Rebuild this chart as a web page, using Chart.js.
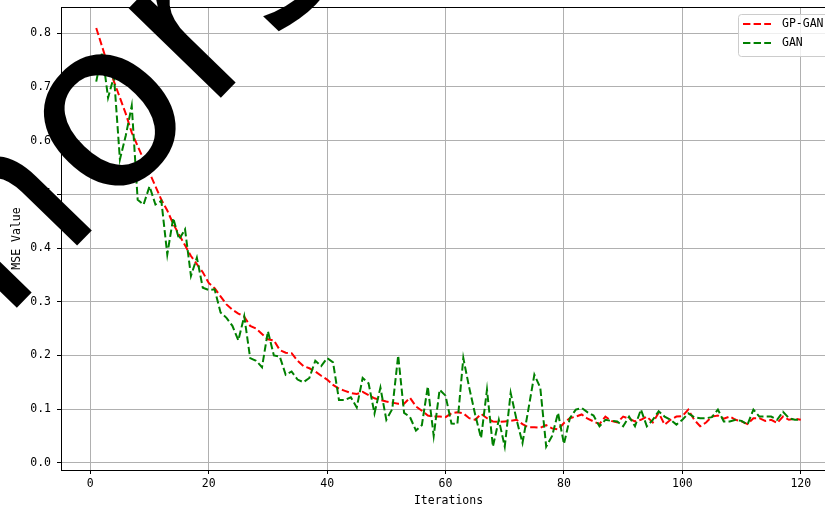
<!DOCTYPE html>
<html>
<head>
<meta charset="utf-8">
<script src="https://cdn.jsdelivr.net/npm/chart.js@4"></script>
<style>
  html, body { margin: 0; padding: 0; background: #fff; overflow: hidden; }
  #wrap { position: relative; width: 836px; height: 508px; }
</style>
</head>
<body>
<div id="wrap"><canvas id="c"></canvas></div>
<script>
// ---- data ---------------------------------------------------------------
const iterations = Array.from({ length: 120 }, (_, i) => i + 1);

const gpGan = [
  0.810, 0.775, 0.740, 0.710, 0.680, 0.650, 0.615, 0.590, 0.565, 0.540,
  0.515, 0.490, 0.470, 0.445, 0.425, 0.405, 0.385, 0.370, 0.355, 0.335,
  0.325, 0.310, 0.295, 0.285, 0.278, 0.272, 0.255, 0.250, 0.240, 0.230,
  0.228, 0.210, 0.205, 0.204, 0.190, 0.180, 0.176, 0.170, 0.162, 0.155,
  0.145, 0.138, 0.134, 0.130, 0.128, 0.132, 0.126, 0.120, 0.117, 0.114,
  0.112, 0.110, 0.110, 0.121, 0.105, 0.097, 0.088, 0.086, 0.086, 0.085,
  0.092, 0.094, 0.092, 0.083, 0.080, 0.091, 0.083, 0.077, 0.076, 0.077,
  0.078, 0.080, 0.072, 0.066, 0.066, 0.065, 0.070, 0.064, 0.062, 0.074,
  0.083, 0.086, 0.090, 0.082, 0.077, 0.072, 0.086, 0.078, 0.075, 0.086,
  0.082, 0.077, 0.080, 0.086, 0.075, 0.093, 0.071, 0.080, 0.086, 0.087,
  0.099, 0.080, 0.068, 0.075, 0.086, 0.088, 0.082, 0.086, 0.080, 0.077,
  0.072, 0.083, 0.083, 0.078, 0.080, 0.074, 0.086, 0.080, 0.082, 0.080
];

const gan = [
  0.710, 0.765, 0.680, 0.720, 0.565, 0.610, 0.665, 0.490, 0.481, 0.515,
  0.481, 0.488, 0.388, 0.456, 0.416, 0.435, 0.348, 0.382, 0.326, 0.322,
  0.323, 0.280, 0.270, 0.255, 0.228, 0.273, 0.195, 0.190, 0.178, 0.245,
  0.200, 0.198, 0.164, 0.170, 0.155, 0.150, 0.158, 0.190, 0.180, 0.195,
  0.187, 0.117, 0.117, 0.122, 0.103, 0.158, 0.148, 0.092, 0.140, 0.080,
  0.100, 0.200, 0.093, 0.085, 0.060, 0.070, 0.142, 0.050, 0.136, 0.125,
  0.073, 0.072, 0.195, 0.140, 0.090, 0.046, 0.136, 0.030, 0.080, 0.030,
  0.130, 0.080, 0.037, 0.100, 0.164, 0.140, 0.030, 0.050, 0.093, 0.035,
  0.083, 0.099, 0.102, 0.094, 0.088, 0.068, 0.080, 0.078, 0.077, 0.068,
  0.086, 0.068, 0.099, 0.068, 0.080, 0.096, 0.086, 0.080, 0.071, 0.080,
  0.092, 0.085, 0.083, 0.083, 0.085, 0.099, 0.077, 0.077, 0.080, 0.078,
  0.071, 0.099, 0.086, 0.086, 0.086, 0.080, 0.095, 0.083, 0.080, 0.080
];

const xTicks = [0, 20, 40, 60, 80, 100, 120];
const yTicks = [0, 0.1, 0.2, 0.3, 0.4, 0.5, 0.6, 0.7, 0.8];
const seriesNames = ['GP-GAN', 'GAN'];
const seriesColors = ['#ff0000', '#008000'];

// ---- style --------------------------------------------------------------
const FONT = "'DejaVu Sans Mono', monospace";
const DASH = [7.4, 3.2];
const LW = 2;

// 外枠（上・右）
const framePlugin = {
  id: 'frame',
  afterDatasetsDraw(chart) {
    const { ctx, chartArea: a } = chart;
    ctx.save();
    ctx.strokeStyle = '#000';
    ctx.lineWidth = 1;
    ctx.strokeRect(a.left + 0.5, a.top + 0.5, a.right - a.left, a.bottom - a.top);
    ctx.restore();
  }
};

// 凡例（右上）
const legendPlugin = {
  id: 'mplLegend',
  afterDatasetsDraw(chart) {
    const { ctx } = chart;
    const x = 738, y = 14, w = 100, h = 42;
    ctx.save();
    ctx.fillStyle = 'rgba(255,255,255,0.8)';
    ctx.strokeStyle = '#cccccc';
    ctx.lineWidth = 1;
    ctx.beginPath();
    ctx.roundRect(x + 0.5, y + 0.5, w, h, 3);
    ctx.fill();
    ctx.stroke();
    ctx.font = '11.5px ' + FONT;
    ctx.textBaseline = 'middle';
    seriesNames.forEach((name, i) => {
      const ly = 24 + i * 19;
      ctx.strokeStyle = seriesColors[i];
      ctx.lineWidth = LW;
      ctx.setLineDash(DASH);
      ctx.beginPath();
      ctx.moveTo(743, ly);
      ctx.lineTo(771, ly);
      ctx.stroke();
      ctx.setLineDash([]);
      ctx.fillStyle = '#000';
      ctx.fillText(name, 782, ly + 0.5);
    });
    ctx.restore();
  }
};

// 大きな黒文字のオーバーレイ
const overlayPlugin = {
  id: 'overlay',
  afterDraw(chart) {
    const { ctx } = chart;
    ctx.save();
    ctx.translate(2, 323);
    ctx.rotate(-0.8);
    ctx.fillStyle = '#000';
    ctx.font = "235px 'DejaVu Sans'";
    ctx.textBaseline = 'alphabetic';
    ctx.fillText('nors', 0, 0);
    ctx.restore();
  }
};

new Chart(document.getElementById('c'), {
  type: 'line',
  data: {
    datasets: [
      {
        label: seriesNames[0],
        data: iterations.map((x, i) => ({ x, y: gpGan[i] })),
        borderColor: seriesColors[0],
        borderWidth: LW,
        borderDash: DASH,
        pointRadius: 0,
        tension: 0,
        fill: false,
        order: 1
      },
      {
        label: seriesNames[1],
        data: iterations.map((x, i) => ({ x, y: gan[i] })),
        borderColor: seriesColors[1],
        borderWidth: LW,
        borderDash: DASH,
        pointRadius: 0,
        tension: 0,
        fill: false,
        order: 0
      }
    ]
  },
  options: {
    responsive: true,
    maintainAspectRatio: false,
    animation: false,
    layout: { padding: { top: 7, left: 0, right: 0, bottom: 0 } },
    plugins: {
      legend: { display: false },
      tooltip: { enabled: false }
    },
    scales: {
      x: {
        type: 'linear',
        min: -4.95,
        max: 125.95,
        afterBuildTicks: (s) => { s.ticks = xTicks.map(v => ({ value: v })); },
        afterFit: (s) => { s.height = 38; s.paddingLeft = 0; s.paddingRight = 0; },
        grid: { color: '#b0b0b0', lineWidth: 1, tickColor: '#000', tickLength: 4 },
        border: { color: '#000', width: 1 },
        ticks: { color: '#000', font: { family: FONT, size: 11.5 }, padding: 3, maxRotation: 0 },
        title: { display: true, text: 'Iterations', color: '#000', font: { family: FONT, size: 11.5 }, padding: { top: 0, bottom: 0 } }
      },
      y: {
        type: 'linear',
        min: -0.0135,
        max: 0.849,
        afterBuildTicks: (s) => { s.ticks = yTicks.map(v => ({ value: v })); },
        afterFit: (s) => { s.width = 61; s.paddingTop = 0; s.paddingBottom = 0; },
        grid: { color: '#b0b0b0', lineWidth: 1, tickColor: '#000', tickLength: 4 },
        border: { color: '#000', width: 1 },
        ticks: { color: '#000', font: { family: FONT, size: 11.5 }, padding: 6, callback: (v) => v.toFixed(1) },
        title: { display: true, text: 'MSE Value', color: '#000', font: { family: FONT, size: 11.5 }, padding: { top: 10, bottom: 0 } }
      }
    }
  },
  plugins: [framePlugin, legendPlugin, overlayPlugin]
});
</script>
</body>
</html>
